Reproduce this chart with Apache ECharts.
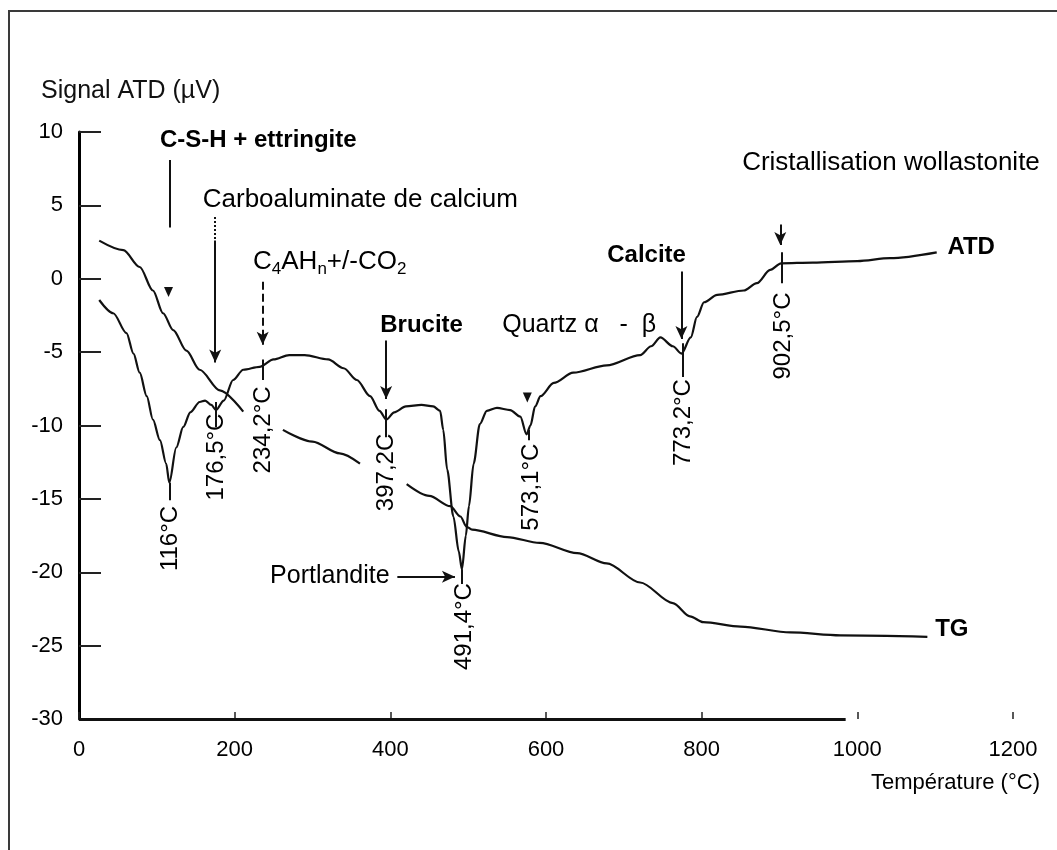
<!DOCTYPE html>
<html>
<head>
<meta charset="utf-8">
<script src="https://cdn.jsdelivr.net/npm/echarts@6/dist/echarts.min.js"></script>
<style>
html, body { margin: 0; padding: 0; background: #fff; }
#atd_chart { width: 1057px; height: 850px; }
</style>
</head>
<body>
<div id="atd_chart"></div>
<script>
// TG curve (mass loss), null = gap left in the trace for a label
var tg_temp = [26, 57, 78, 95, 108, 121, 138, 155, 181, 211, 236, 262, 300, 335, 361, 390, 421, 450, 477, 490, 498, 505, 550, 592, 640, 678, 721, 763, 785, 802, 850, 914, 978, 1090];
var tg_signal = [2.6, 1.95, 0.8, -0.8, -2.35, -3.5, -4.9, -6.2, -7.6, -9.05, null, -10.3, -11.1, -11.9, -12.6, null, -14.0, -14.8, -15.5, -16.2, -16.9, -17.1, -17.6, -18.0, -18.7, -19.4, -20.7, -22.1, -23.0, -23.4, -23.7, -24.1, -24.3, -24.4];

// ATD curve
var atd_temp = [26, 44, 61, 70, 78, 87, 95, 104, 112, 116, 125, 134, 143, 155, 162, 170, 176, 186, 198, 211, 232, 250, 270, 290, 320, 340, 357, 374, 386, 395, 405, 420, 440, 455, 464, 468, 473, 481, 488, 492, 497, 501, 507, 515, 524, 537, 554, 567, 575, 580, 586, 593, 610, 635, 678, 721, 735, 747, 763, 774, 786, 794, 803, 820, 854, 871, 888, 902, 943, 1000, 1042, 1102];
var atd_signal = [-1.45, -2.35, -3.7, -5.1, -6.4, -8.0, -9.6, -11.0, -12.6, -13.9, -11.5, -10.1, -9.1, -8.4, -8.3, -8.6, -8.95, -8.3, -6.9, -6.2, -6.0, -5.5, -5.2, -5.2, -5.5, -6.1, -6.9, -8.0, -9.0, -9.6, -9.1, -8.7, -8.6, -8.7, -9.0, -10.3, -13.0, -16.2, -18.6, -19.8, -17.5, -15.5, -12.6, -9.9, -9.0, -8.8, -8.95, -9.4, -10.6, -10.0, -8.7, -8.0, -7.1, -6.4, -5.9, -5.2, -4.6, -4.0, -4.6, -5.1, -4.0, -2.6, -1.6, -1.1, -0.8, -0.3, 0.6, 1.05, 1.1, 1.2, 1.4, 1.8];

// peak temperatures written vertically
var peak_text = ['116°C', '176,5°C', '234,2°C', '397,2C', '491,4°C', '573,1°C', '773,2°C', '902,5°C'];
var peak_text_t = [117, 176, 236.5, 394.6, 495, 581, 776, 905];
var peak_text_y = [-17.7, -12.15, -10.3, -13.2, -23.7, -14.2, -9.8, -3.9];

// short ticks marking each peak
var tick_t = [116, 176, 236.5, 394.6, 492, 578, 776, 903];
var tick_top = [-13.9, -8.4, -5.5, -8.9, -19.8, -10.3, -4.4, 1.8];
var tick_bottom = [-15.1, -10.1, -6.9, -10.8, -20.8, -11.0, -6.7, -0.3];

// phase names
var phase_text = ['C-S-H + ettringite', 'Carboaluminate de calcium', '{n|C}{s|4}{n|AH}{s|n}{n|+/-CO}{s|2}', 'Brucite', 'Quartz α   -  β', 'Calcite', 'Cristallisation wollastonite', 'ATD', 'TG', 'Portlandite'];
var phase_t = [104, 159, 223.6, 387, 543.7, 678.7, 852, 1115.7, 1100, 245.5];
var phase_y = [9.45, 5.37, 1.14, -3.15, -3.15, 1.6, 7.9, 2.16, -23.9, -20.25];
var phase_bold = [true, false, false, true, false, true, false, true, true, false];
var phase_size = [24, 26, 26, 24, 25, 24, 26, 24, 24, 25];

// arrows from phase names to peaks
var arrow_from = [[117, 8.1], [175, 4.2], [175, 2.6], [236, -0.2], [394.6, -4.2], [774, 0.5], [901, 3.7], [409, -20.3]];
var arrow_to = [[117, 3.5], [175, 2.6], [175, -5.7], [236, -4.5], [394.6, -8.2], [774, -4.1], [901, 2.3], [483, -20.3]];
var arrow_head = [false, false, true, true, true, true, true, true];
var arrow_style = ['solid', 'dotted', 'solid', 'dashed', 'solid', 'solid', 'solid', 'solid'];

// loose arrowheads
var head_points = [[115, -0.9], [576, -8.1]];

var x_axis_end = 985;

function zip(a, b) {
	var out = [];
	for (var i = 0; i < a.length; i++) {
		out.push([a[i], b[i]]);
	}
	return out;
}

function draw_chart() {
	var myChart = echarts.init(document.getElementById('atd_chart'));
	var font = '"Liberation Sans", Arial, sans-serif';
	var ink = '#000';

	var lines = [];
	for (var i = 0; i < arrow_from.length; i++) {
		lines.push([
			{coord: arrow_from[i], symbol: 'none', lineStyle: {type: arrow_style[i]}},
			{coord: arrow_to[i], symbol: arrow_head[i] ? 'arrow' : 'none', symbolSize: [9, 13]}
		]);
	}
	for (i = 0; i < tick_t.length; i++) {
		lines.push([
			{coord: [tick_t[i], tick_top[i]], symbol: 'none'},
			{coord: [tick_t[i], tick_bottom[i]], symbol: 'none'}
		]);
	}
	// bottom axis line, broken off before 1000 as on the plot
	lines.push([
		{coord: [0, -30], symbol: 'none', lineStyle: {width: 3}},
		{coord: [x_axis_end, -30], symbol: 'none'}
	]);

	var phase_data = [];
	for (i = 0; i < phase_text.length; i++) {
		phase_data.push({
			value: [phase_t[i], phase_y[i]],
			name: phase_text[i],
			label: {fontWeight: phase_bold[i] ? 'bold' : 'normal', fontSize: phase_size[i]}
		});
	}
	var peak_data = [];
	for (i = 0; i < peak_text.length; i++) {
		peak_data.push({value: [peak_text_t[i], peak_text_y[i]], name: peak_text[i]});
	}

	option = {
		animation: false,
		title: [
			{
				text: 'Signal ATD (µV)',
				left: 36, top: 74,
				textStyle: {fontFamily: font, fontSize: 25, fontWeight: 'normal', color: '#111'}
			},
			{
				text: 'Température (°C)',
				left: 866, top: 767,
				textStyle: {fontFamily: font, fontSize: 22, fontWeight: 'normal', color: ink}
			}
		],
		graphic: [{
			type: 'rect',
			shape: {x: 9, y: 11, width: 1100, height: 900},
			style: {fill: 'none', stroke: '#3a3a3a', lineWidth: 2}
		}],
		grid: {left: 79, right: 44, top: 132, bottom: 131},
		xAxis: {
			type: 'value',
			min: 0, max: 1200, interval: 200,
			axisLine: {show: false, onZero: false},
			axisTick: {show: true, inside: true, length: 7, lineStyle: {color: '#222', width: 1.5}},
			splitLine: {show: false},
			axisLabel: {
				margin: 20, fontFamily: font, fontSize: 22, color: ink,
				formatter: function (v) { return String(v); }
			}
		},
		yAxis: {
			type: 'value',
			min: -30, max: 10, interval: 5,
			axisLine: {show: true, onZero: false, lineStyle: {color: '#000', width: 3}},
			axisTick: {show: true, inside: true, length: 22, lineStyle: {color: '#222', width: 2}},
			splitLine: {show: false},
			axisLabel: {margin: 16, fontFamily: font, fontSize: 22, color: ink}
		},
		series: [
			{
				name: 'TG',
				type: 'line',
				data: zip(tg_temp, tg_signal),
				symbol: 'none',
				smooth: 0.3,
				smoothMonotone: 'x',
				connectNulls: false,
				lineStyle: {color: '#111', width: 2.2}
			},
			{
				name: 'ATD',
				type: 'line',
				data: zip(atd_temp, atd_signal),
				symbol: 'none',
				smooth: 0.3,
				smoothMonotone: 'x',
				lineStyle: {color: '#111', width: 2.2}
			},
			{
				name: 'phases',
				type: 'scatter',
				data: phase_data,
				symbolSize: 0,
				silent: true,
				itemStyle: {opacity: 1},
				label: {
					show: true,
					position: 'right',
					distance: 0,
					formatter: '{b}',
					fontFamily: font,
					fontSize: 24,
					color: ink,
					opacity: 1,
					rich: {
						n: {fontFamily: font, fontSize: 26, color: ink},
						s: {fontFamily: font, fontSize: 17, color: ink, padding: [15, 0, 0, 0]}
					}
				},
				markLine: {
					silent: true,
					animation: false,
					label: {show: false},
					lineStyle: {color: '#111', width: 2, type: 'solid'},
					data: lines
				}
			},
			{
				name: 'peaks',
				type: 'scatter',
				data: peak_data,
				symbolSize: 0,
				silent: true,
				itemStyle: {opacity: 1},
				label: {
					show: true,
					position: 'inside',
					rotate: 90,
					formatter: '{b}',
					fontFamily: font,
					fontSize: 24,
					color: ink,
					opacity: 1
				}
			},
			{
				name: 'heads',
				type: 'scatter',
				data: head_points,
				symbol: 'triangle',
				symbolRotate: 180,
				symbolSize: [9, 10],
				silent: true,
				itemStyle: {color: '#111', opacity: 1}
			}
		]
	};

	myChart.setOption(option);
}

draw_chart();
</script>
</body>
</html>
